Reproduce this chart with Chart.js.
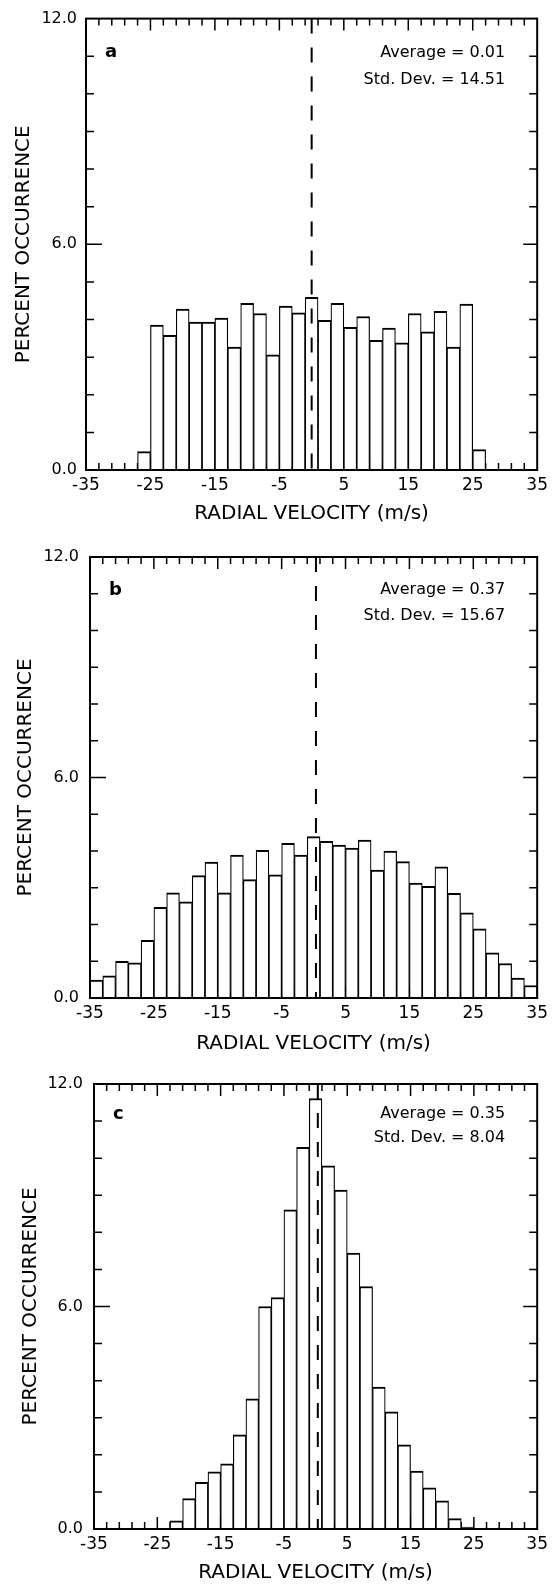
<!DOCTYPE html>
<html>
<head>
<meta charset="utf-8">
<script src="https://cdn.jsdelivr.net/npm/chart.js@4.4.0/dist/chart.umd.min.js"></script>
<style>
  html, body { margin: 0; padding: 0; background: #fff; }
  #wrap { position: relative; width: 553px; height: 1585px; }
  canvas { position: absolute; left: 0; }
</style>
</head>
<body>
<div id="wrap">
  <canvas id="chartA" width="553" height="530" style="top:0"></canvas>
  <canvas id="chartB" width="553" height="530" style="top:530px"></canvas>
  <canvas id="chartC" width="553" height="525" style="top:1060px"></canvas>
</div>
<script>
// bin centres (m/s) and percent occurrence per bin
const binsA = [-26, -24, -22, -20, -18, -16, -14, -12, -10, -8, -6, -4, -2, 0, 2, 4, 6, 8, 10, 12, 14, 16, 18, 20, 22, 24, 26];
const pctA = [0.49, 3.85, 3.58, 4.28, 3.93, 3.93, 4.04, 3.27, 4.43, 4.16, 3.06, 4.36, 4.18, 4.59, 3.98, 4.43, 3.79, 4.08, 3.45, 3.77, 3.38, 4.16, 3.67, 4.22, 3.27, 4.41, 0.54];

const binsB = [-34, -32, -30, -28, -26, -24, -22, -20, -18, -16, -14, -12, -10, -8, -6, -4, -2, 0, 2, 4, 6, 8, 10, 12, 14, 16, 18, 20, 22, 24, 26, 28, 30, 32, 34];
const pctB = [0.49, 0.60, 1.00, 0.96, 1.57, 2.47, 2.86, 2.62, 3.33, 3.70, 2.86, 3.89, 3.22, 4.02, 3.35, 4.21, 3.89, 4.39, 4.26, 4.16, 4.08, 4.30, 3.48, 4.00, 3.71, 3.13, 3.04, 3.57, 2.85, 2.32, 1.88, 1.23, 0.94, 0.54, 0.34];

const binsC = [-22, -20, -18, -16, -14, -12, -10, -8, -6, -4, -2, 0, 2, 4, 6, 8, 10, 12, 14, 16, 18, 20, 22, 24];
const pctC = [0.22, 0.82, 1.26, 1.54, 1.76, 2.54, 3.51, 6.00, 6.24, 8.61, 10.29, 11.61, 9.79, 9.14, 7.44, 6.54, 3.83, 3.16, 2.27, 1.56, 1.11, 0.76, 0.28, 0.05];

const panelLetters = ['a', 'b', 'c'];
const averages = [0.01, 0.37, 0.35];
const stdDevs = [14.51, 15.67, 8.04];

const xTickValues = [-35, -25, -15, -5, 5, 15, 25, 35];
const yTickValues = [0, 6, 12];

const FONT = "'DejaVu Sans', sans-serif";

// frame, inward tick marks and the text in the corners
const framePlugin = {
  id: 'frame',
  beforeDatasetsDraw(chart) {
    const { ctx, chartArea: a, scales: { x, y } } = chart;
    ctx.save();
    ctx.strokeStyle = '#000';
    ctx.lineWidth = 1.5;
    ctx.beginPath();
    for (let v = 1; v < 12; v++) {
      const py = y.getPixelForValue(v);
      ctx.moveTo(a.left, py); ctx.lineTo(a.left + (v === 6 ? 16 : 8), py);
      ctx.moveTo(a.right, py); ctx.lineTo(a.right - (v === 6 ? 14 : 8), py);
    }
    for (let v = -33; v <= 33; v += 2) {
      const px = x.getPixelForValue(v);
      const l = (v + 35) % 10 === 0 ? 12 : 7;
      ctx.moveTo(px, a.top); ctx.lineTo(px, a.top + l);
      ctx.moveTo(px, a.bottom); ctx.lineTo(px, a.bottom - l);
    }
    ctx.stroke();
    ctx.restore();
  },
  afterDatasetsDraw(chart) {
    const { ctx, chartArea: a } = chart;
    const n = chart.options.plugins.frame;
    ctx.save();
    ctx.strokeStyle = '#000';
    ctx.lineWidth = 2;
    ctx.strokeRect(a.left, a.top, a.right - a.left, a.bottom - a.top);
    ctx.fillStyle = '#000';
    ctx.textBaseline = 'middle';
    ctx.font = 'bold 18px ' + FONT;
    ctx.textAlign = 'left';
    ctx.fillText(n.letter, a.left + 19, a.top + n.line1);
    ctx.font = '16px ' + FONT;
    ctx.textAlign = 'right';
    ctx.fillText('Average = ' + n.avg.toFixed(2), a.right - 32, a.top + n.line1);
    ctx.fillText('Std. Dev. = ' + n.std.toFixed(2), a.right - 32, a.top + n.line2);
    ctx.restore();
  }
};

function makeChart(id, bins, pct, i, g) {
  const bars = bins.map((b, k) => ({ x: b, y: pct[k] }));
  const meanLine = [{ x: averages[i], y: 12 }, { x: averages[i], y: 0 }];
  return new Chart(document.getElementById(id), {
    type: 'bar',
    data: {
      datasets: [{
        type: 'line',
        data: meanLine,
        borderColor: '#000',
        borderWidth: 2,
        borderDash: [15, 14],
        pointRadius: 0,
        order: 0
      }, {
        type: 'bar',
        data: bars,
        backgroundColor: '#fff',
        borderColor: '#000',
        borderWidth: { top: 2, left: 1.2, right: 1.2, bottom: 0 },
        borderSkipped: 'start',
        barPercentage: 1,
        categoryPercentage: 1,
        order: 1
      }]
    },
    options: {
      responsive: false,
      animation: false,
      events: [],
      layout: { padding: { top: g.top, right: g.right, left: 0, bottom: 0 } },
      plugins: {
        legend: { display: false },
        tooltip: { enabled: false },
        frame: { letter: panelLetters[i], avg: averages[i], std: stdDevs[i], line1: g.line1, line2: g.line2 }
      },
      scales: {
        x: {
          type: 'linear',
          min: -35,
          max: 35,
          offset: false,
          grid: { display: false, drawTicks: false },
          border: { display: false },
          afterBuildTicks: (s) => { s.ticks = xTickValues.map(v => ({ value: v })); },
          afterFit: (s) => { s.height = g.xh; },
          ticks: {
            autoSkip: false,
            maxRotation: 0,
            padding: 5,
            color: '#000',
            font: { family: FONT, size: 17 },
            callback: (v) => String(v)
          },
          title: {
            display: true,
            text: 'RADIAL VELOCITY (m/s)',
            color: '#000',
            font: { family: FONT, size: 20 },
            padding: { top: 0, bottom: g.tb }
          }
        },
        y: {
          type: 'linear',
          min: 0,
          max: 12,
          grid: { display: false, drawTicks: false },
          border: { display: false },
          afterBuildTicks: (s) => { s.ticks = yTickValues.map(v => ({ value: v })); },
          afterFit: (s) => { s.width = g.left; },
          ticks: {
            padding: g.lp,
            color: '#000',
            font: { family: FONT, size: 16 },
            callback: (v) => v.toFixed(1)
          },
          title: {
            display: true,
            text: 'PERCENT OCCURRENCE',
            color: '#000',
            font: { family: FONT, size: 20 },
            padding: { top: g.tl, bottom: 0 }
          }
        }
      }
    },
    plugins: [framePlugin]
  });
}

makeChart('chartA', binsA, pctA, 0, { top: 15, right: 14, left: 86, xh: 60, tb: 4, lp: 9, tl: 12, line1: 34, line2: 61 });
makeChart('chartB', binsB, pctB, 1, { top: 27, right: 14, left: 90, xh: 62, tb: 4, lp: 11, tl: 14, line1: 33, line2: 59 });
makeChart('chartC', binsC, pctC, 2, { top: 24, right: 10, left: 94, xh: 56, tb: 0, lp: 11, tl: 19, line1: 30, line2: 54 });
</script>
</body>
</html>
